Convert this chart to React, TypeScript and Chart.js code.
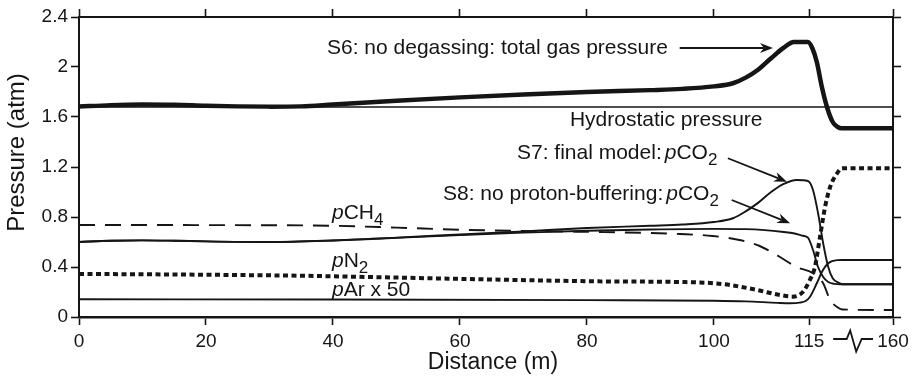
import React, { useEffect, useRef } from "react";
import { Chart, registerables } from "chart.js";

Chart.register(...registerables);

const FONT = '"Liberation Sans", Arial, Helvetica, sans-serif';
const INK = "#151515";

// ---- axis (broken after 115 m: 120..160 compressed) ----
const X_BREAK = 120;
const X_END = 160;
const X_END_AXIS = 128.2;
const toAxis = (d: number) =>
  d <= X_BREAK ? d : X_BREAK + ((d - X_BREAK) * (X_END_AXIS - X_BREAK)) / (X_END - X_BREAK);

const xTickValues = [0, 20, 40, 60, 80, 100, 115, 160];
const yTickValues = [0, 0.4, 0.8, 1.2, 1.6, 2, 2.4];
const yTickLabels = ["0", "0.4", "0.8", "1.2", "1.6", "2", "2.4"];

// ---- S6: no degassing, total gas pressure ----
const s6Dist = [0, 5, 10, 15, 20, 25, 30, 35, 40, 50, 60, 70, 80, 90, 95, 100, 103, 105, 107, 109, 111, 112.6, 114.8, 115.5, 116.2, 117, 117.8, 118.7, 119.5, 120.5, 160];
const s6Total = [1.683, 1.695, 1.7, 1.698, 1.69, 1.685, 1.683, 1.685, 1.7, 1.73, 1.757, 1.78, 1.8, 1.815, 1.825, 1.845, 1.87, 1.915, 1.98, 2.07, 2.155, 2.2, 2.2, 2.15, 2.04, 1.84, 1.68, 1.56, 1.52, 1.51, 1.51];

// ---- Hydrostatic pressure ----
const hydroDist = [0, 160];
const hydroPressure = [1.68, 1.68];

// ---- S7: final model pCO2 ----
const s7Dist = [0, 5, 10, 15, 20, 30, 40, 50, 60, 70, 80, 90, 95, 100, 103, 105, 107, 109, 111, 113, 114.8, 115.6, 116.4, 117.2, 118, 118.7, 119.8, 121, 160];
const s7pCO2 = [0.6, 0.61, 0.613, 0.61, 0.605, 0.6, 0.612, 0.635, 0.66, 0.685, 0.712, 0.73, 0.74, 0.76, 0.79, 0.845, 0.915, 1.0, 1.065, 1.096, 1.088, 1.016, 0.83, 0.59, 0.4, 0.31, 0.27, 0.262, 0.262];

// ---- S8: no proton-buffering pCO2 ----
const s8Dist = [0, 5, 10, 15, 20, 30, 40, 50, 60, 70, 80, 90, 100, 105, 108, 111, 112.5, 114, 114.8, 115.6, 116.4, 117.2, 118, 119, 120, 160];
const s8pCO2 = [0.6, 0.61, 0.613, 0.61, 0.605, 0.6, 0.612, 0.633, 0.655, 0.675, 0.69, 0.7, 0.705, 0.703, 0.695, 0.68, 0.67, 0.65, 0.635, 0.536, 0.4, 0.32, 0.28, 0.265, 0.262, 0.262];

// ---- pCH4 ----
const ch4Dist = [0, 10, 20, 30, 40, 50, 60, 70, 79, 90, 94.6, 99.8, 104, 107.2, 110.4, 113, 115.6, 117.2, 118.3, 119.4, 121, 160];
const ch4Pressure = [0.736, 0.736, 0.735, 0.734, 0.73, 0.715, 0.698, 0.688, 0.682, 0.672, 0.664, 0.648, 0.616, 0.568, 0.48, 0.4, 0.35, 0.27, 0.136, 0.08, 0.06, 0.056];

// ---- pN2 ----
const n2Dist = [0, 20, 35, 60, 82, 94.6, 100, 102.5, 106.8, 110.4, 112.4, 114, 115.1, 115.9, 116.7, 117.5, 118.3, 119.4, 121, 160];
const n2Pressure = [0.345, 0.338, 0.33, 0.305, 0.285, 0.28, 0.27, 0.256, 0.216, 0.176, 0.163, 0.2, 0.296, 0.4, 0.64, 0.88, 1.04, 1.15, 1.19, 1.19];

// ---- pAr x 50 ----
const arDist = [0, 40, 80, 100, 105, 110, 112, 113.5, 114.5, 115.1, 116.2, 117, 118, 119.4, 121, 160];
const arPressure = [0.142, 0.14, 0.135, 0.13, 0.125, 0.113, 0.11, 0.115, 0.13, 0.16, 0.27, 0.36, 0.43, 0.455, 0.456, 0.456];

// ---- annotation texts (anchored in data units: distance, pressure) ----
type Part = { t: string; italic?: boolean; sub?: boolean; gap?: number };
const labelAnchors: { d: number; v: number; parts: Part[] }[] = [
  { d: 39.06, v: 2.104, parts: [{ t: "S6: no degassing: total gas pressure" }] },
  { d: 77.32, v: 1.528, parts: [{ t: "Hydrostatic pressure" }] },
  { d: 68.98, v: 1.262, parts: [{ t: "S7: final model:" }, { t: "p", italic: true, gap: 3 }, { t: "CO" }, { t: "2", sub: true }] },
  { d: 57.32, v: 0.936, parts: [{ t: "S8: no proton-buffering:" }, { t: "p", italic: true, gap: 3 }, { t: "CO" }, { t: "2", sub: true }] },
  { d: 39.84, v: 0.784, parts: [{ t: "p", italic: true }, { t: "CH" }, { t: "4", sub: true }] },
  { d: 39.84, v: 0.4, parts: [{ t: "p", italic: true }, { t: "N" }, { t: "2", sub: true }] },
  { d: 39.84, v: 0.168, parts: [{ t: "p", italic: true }, { t: "Ar x 50" }] },
];

const arrowLines: { from: [number, number]; to: [number, number] }[] = [
  { from: [94.6, 2.152], to: [109.3, 2.152] },
  { from: [102.2, 1.27], to: [111.5, 1.082] },
  { from: [102.8, 0.936], to: [112.0, 0.75] },
];

const pts = (d: number[], v: number[]) => d.map((x, i) => ({ x: toAxis(x), y: v[i] }));

const annotationPlugin = {
  id: "annotations",
  afterDatasetsDraw(chart: any) {
    const { ctx, scales } = chart;
    const xs = scales.x;
    const ys = scales.y;
    ctx.save();
    ctx.fillStyle = INK;
    ctx.strokeStyle = INK;
    ctx.textBaseline = "alphabetic";
    ctx.textAlign = "left";
    for (const a of labelAnchors) {
      let x = xs.getPixelForValue(toAxis(a.d));
      const y = ys.getPixelForValue(a.v);
      for (const p of a.parts) {
        x += p.gap || 0;
        ctx.font = p.sub ? `17px ${FONT}` : `${p.italic ? "italic " : ""}21px ${FONT}`;
        ctx.fillText(p.t, x, p.sub ? y + 6 : y);
        x += ctx.measureText(p.t).width;
      }
    }
    ctx.lineWidth = 1.8;
    for (const ar of arrowLines) {
      const x0 = xs.getPixelForValue(toAxis(ar.from[0]));
      const y0 = ys.getPixelForValue(ar.from[1]);
      const x1 = xs.getPixelForValue(toAxis(ar.to[0]));
      const y1 = ys.getPixelForValue(ar.to[1]);
      const ang = Math.atan2(y1 - y0, x1 - x0);
      const L = 13;
      const W = 5;
      ctx.beginPath();
      ctx.moveTo(x0, y0);
      ctx.lineTo(x1 - L * 0.7 * Math.cos(ang), y1 - L * 0.7 * Math.sin(ang));
      ctx.stroke();
      ctx.beginPath();
      ctx.moveTo(x1, y1);
      ctx.lineTo(x1 - L * Math.cos(ang) + W * Math.sin(ang), y1 - L * Math.sin(ang) - W * Math.cos(ang));
      ctx.lineTo(x1 - L * 0.7 * Math.cos(ang), y1 - L * 0.7 * Math.sin(ang));
      ctx.lineTo(x1 - L * Math.cos(ang) - W * Math.sin(ang), y1 - L * Math.sin(ang) + W * Math.cos(ang));
      ctx.closePath();
      ctx.fill();
    }
    ctx.restore();
  },
  afterDraw(chart: any) {
    const { ctx, chartArea, scales } = chart;
    const xs = scales.x;
    ctx.save();
    ctx.fillStyle = INK;
    ctx.strokeStyle = INK;
    // axis titles
    ctx.font = `23px ${FONT}`;
    ctx.textAlign = "center";
    ctx.textBaseline = "alphabetic";
    ctx.fillText("Distance (m)", (chartArea.left + chartArea.right) / 2 + 7, chartArea.bottom + 52);
    ctx.save();
    ctx.translate(24, (chartArea.top + chartArea.bottom) / 2 - 14.5);
    ctx.rotate(-Math.PI / 2);
    ctx.font = `24px ${FONT}`;
    ctx.fillText("Pressure (atm)", 0, 0);
    ctx.restore();
    // axis break symbol between 115 and 160
    const a = xs.getPixelForValue(toAxis(115));
    const b = xs.getPixelForValue(toAxis(160));
    const yb = chartArea.bottom + 22;
    ctx.lineWidth = 1.8;
    ctx.lineJoin = "miter";
    ctx.beginPath();
    ctx.moveTo(a + 24, yb);
    ctx.lineTo(a + 37.5, yb);
    ctx.lineTo(a + 41, yb - 8.5);
    ctx.lineTo(a + 47, yb + 12.5);
    ctx.lineTo(a + 52.5, yb);
    ctx.lineTo(b - 20, yb);
    ctx.stroke();
    ctx.restore();
  },
};

const setXTicks = (s: any) => {
  s.ticks = xTickValues.map((v) => ({ value: toAxis(v) }));
};
const setYTicks = (s: any) => {
  s.ticks = yTickValues.map((v) => ({ value: v }));
};

const gridOpts = {
  drawOnChartArea: false,
  drawTicks: true,
  tickLength: 8,
  tickWidth: 1.6,
  tickColor: INK,
};

export default function App() {
  const ref = useRef<HTMLCanvasElement | null>(null);

  useEffect(() => {
    document.body.style.margin = "0";
    if (!ref.current) return;
    const line = (data: any, width: number, dash: number[] = []) => ({
      data,
      borderColor: INK,
      borderWidth: width,
      borderDash: dash,
      borderCapStyle: "butt",
      pointRadius: 0,
      fill: false,
      cubicInterpolationMode: "monotone",
      tension: 0.4,
    });
    const chart = new Chart(ref.current, {
      type: "line",
      data: {
        datasets: [
          { label: "Hydrostatic pressure", ...line(pts(hydroDist, hydroPressure), 1.6) },
          { label: "pCH4", ...line(pts(ch4Dist, ch4Pressure), 1.9, [16, 10]) },
          { label: "pAr x 50", ...line(pts(arDist, arPressure), 1.9) },
          { label: "S8 pCO2", ...line(pts(s8Dist, s8pCO2), 1.9) },
          { label: "S7 pCO2", ...line(pts(s7Dist, s7pCO2), 1.9) },
          { label: "pN2", ...line(pts(n2Dist, n2Pressure), 4, [5, 3.5]) },
          { label: "S6 total gas pressure", ...line(pts(s6Dist, s6Total), 4.5) },
        ] as any,
      },
      options: {
        animation: false,
        responsive: false,
        devicePixelRatio: 1,
        layout: { padding: 0 },
        plugins: { legend: { display: false }, tooltip: { enabled: false } },
        scales: {
          x: {
            type: "linear",
            position: "bottom",
            min: 0,
            max: X_END_AXIS,
            afterBuildTicks: setXTicks,
            afterFit: (s: any) => {
              s.height = 59;
            },
            ticks: {
              autoSkip: false,
              maxRotation: 0,
              padding: 5,
              color: INK,
              font: { family: FONT, size: 19 },
              callback: (_v: any, i: number) => String(xTickValues[i]),
            },
            grid: gridOpts,
            border: { display: true, color: INK, width: 2.6 },
          },
          x2: {
            type: "linear",
            position: "top",
            min: 0,
            max: X_END_AXIS,
            afterBuildTicks: setXTicks,
            afterFit: (s: any) => {
              s.height = 17;
            },
            ticks: { display: false },
            grid: gridOpts,
            border: { display: true, color: INK, width: 2 },
          },
          y: {
            type: "linear",
            position: "left",
            min: 0,
            max: 2.4,
            afterBuildTicks: setYTicks,
            afterFit: (s: any) => {
              s.width = 79;
            },
            ticks: {
              padding: 3,
              color: INK,
              font: { family: FONT, size: 19 },
              callback: (_v: any, i: number) => yTickLabels[i],
            },
            grid: gridOpts,
            border: { display: true, color: INK, width: 2 },
          },
          y2: {
            type: "linear",
            position: "right",
            min: 0,
            max: 2.4,
            afterBuildTicks: setYTicks,
            afterFit: (s: any) => {
              s.width = 21;
            },
            ticks: { display: false },
            grid: gridOpts,
            border: { display: true, color: INK, width: 2 },
          },
        },
      } as any,
      plugins: [annotationPlugin],
    });
    return () => chart.destroy();
  }, []);

  return (
    <div style={{ width: 914, height: 376, background: "#fff" }}>
      <canvas ref={ref} width={914} height={376} style={{ display: "block" }} />
    </div>
  );
}
